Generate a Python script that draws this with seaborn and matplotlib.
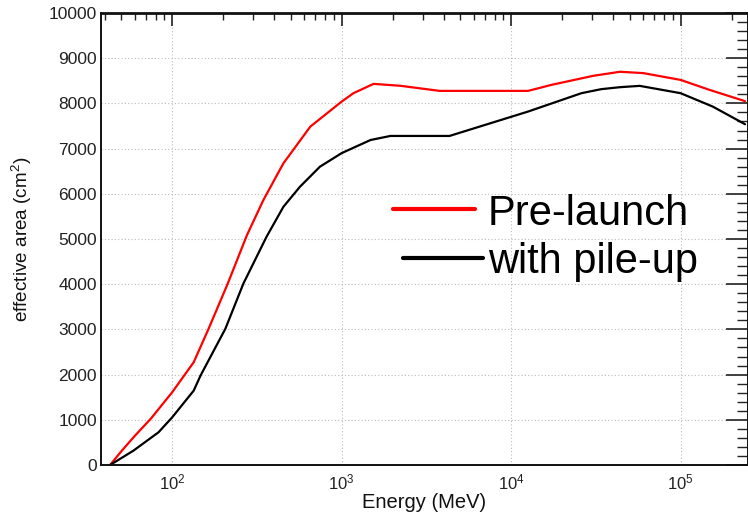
import numpy as np
import pandas as pd
import matplotlib
matplotlib.use("Agg")
import matplotlib.pyplot as plt
import seaborn as sns
from matplotlib.ticker import MultipleLocator, LogLocator, NullFormatter
from matplotlib.lines import Line2D

# ---- data ----
energy_pre = [43, 50, 60, 75, 100, 134, 164, 212, 276, 345, 453, 653, 1000, 1174,
              1542, 2218, 3785, 12600, 17300, 30500, 44000, 60300, 100000, 148000, 240000]
area_pre = [0, 300, 640, 1030, 1610, 2275, 3015, 4000, 5084, 5860, 6674, 7486, 8040, 8226,
            8432, 8390, 8277, 8277, 8410, 8610, 8700, 8670, 8520, 8300, 8050]

energy_pu = [43, 59, 83, 100, 134, 147, 206, 263, 360, 453, 567, 744, 1000, 1480,
             1940, 4330, 12600, 26000, 34000, 44000, 57400, 100000, 155000, 240000]
area_pu = [0, 317, 723, 1055, 1647, 1980, 3015, 4013, 5047, 5712, 6155, 6599, 6900, 7190,
           7280, 7280, 7820, 8226, 8315, 8359, 8388, 8226, 7929, 7540]

series_names = ["Pre-launch", "with pile-up"]
series_colors = {"Pre-launch": "#ff0000", "with pile-up": "#000000"}

df = pd.concat([
    pd.DataFrame({"energy": energy_pre, "area": area_pre, "series": series_names[0]}),
    pd.DataFrame({"energy": energy_pu, "area": area_pu, "series": series_names[1]}),
], ignore_index=True)

# ---- style ----
sns.set_style("white")
plt.rcParams["font.family"] = ["Liberation Sans", "DejaVu Sans"]
plt.rcParams["mathtext.default"] = "regular"

fig = plt.figure(figsize=(7.48, 5.13), dpi=100)
ax = fig.add_axes([101 / 748, 48 / 513, 647 / 748, 452 / 513])

sns.lineplot(data=df, x="energy", y="area", hue="series", palette=series_colors,
             hue_order=series_names, sort=False, estimator=None, linewidth=1.6,
             legend=False, ax=ax)

ax.set_xscale("log")
ax.set_xlim(38, 2.5e5)
ax.set_ylim(0, 10000)

ax.yaxis.set_major_locator(MultipleLocator(1000))
ax.yaxis.set_minor_locator(MultipleLocator(200))
ax.xaxis.set_major_locator(LogLocator(base=10))
ax.xaxis.set_minor_locator(LogLocator(base=10, subs=np.arange(2, 10)))
ax.xaxis.set_minor_formatter(NullFormatter())

ax.grid(True, which="major", linestyle=(0, (1, 2)), color="#bdbdbd", linewidth=0.8)

ax.tick_params(axis="both", which="both", direction="in", top=True, right=True,
               colors="#222222")
ax.tick_params(axis="y", which="major", length=16, width=1.2, labelsize=12.5, pad=3)
ax.tick_params(axis="y", which="minor", length=8, width=1.0)
ax.tick_params(axis="x", which="major", length=9.5, width=1.2, labelsize=12, pad=5.5)
ax.tick_params(axis="x", which="minor", length=4.7, width=1.0)

for side in ["left", "bottom", "top", "right"]:
    ax.spines[side].set_color("#111111")
    ax.spines[side].set_linewidth(1.4)
ax.spines["top"].set_linewidth(2.0)

ax.set_xlabel("Energy (MeV)", fontsize=14.5, color="#111111")
ax.set_ylabel("effective area (cm$^2$)", fontsize=13.6, color="#111111")
ax.xaxis.set_label_coords(0.5, -0.062)
ax.yaxis.set_label_coords(-0.103, 0.5)

# ---- legend (manual, like the ROOT legend) ----
ax.add_line(Line2D([0.451, 0.578], [0.566, 0.566], transform=ax.transAxes,
                   color=series_colors["Pre-launch"], linewidth=3))
ax.add_line(Line2D([0.467, 0.590], [0.458, 0.458], transform=ax.transAxes,
                   color=series_colors["with pile-up"], linewidth=3))
ax.text(0.598, 0.531, "Pre-launch", transform=ax.transAxes, fontsize=30,
        va="baseline", ha="left", color="black")
ax.text(0.598, 0.425, "with pile-up", transform=ax.transAxes, fontsize=30,
        va="baseline", ha="left", color="black")

fig.savefig("out.png", dpi=100)
